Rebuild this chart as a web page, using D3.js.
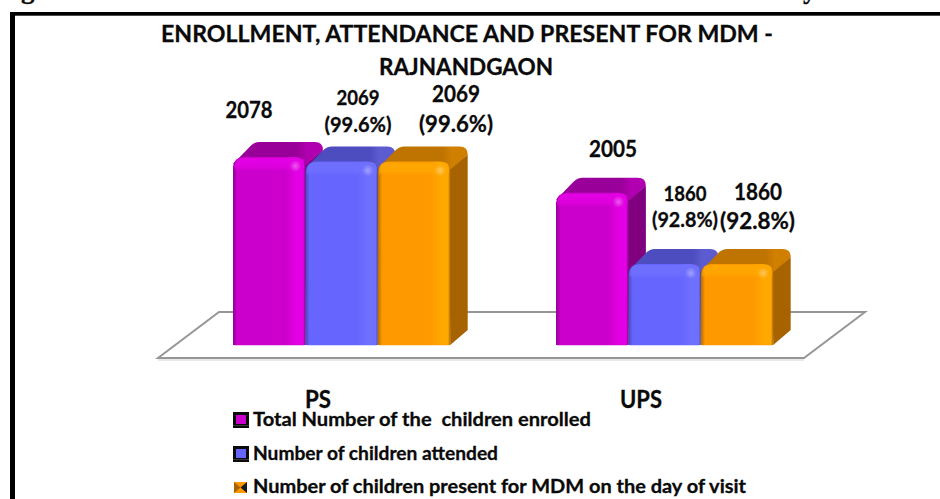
<!DOCTYPE html>
<html>
<head>
<meta charset="utf-8">
<script src="https://cdn.jsdelivr.net/npm/d3@7"></script>
<style>
    html, body { margin: 0; padding: 0; background: #fff; overflow: hidden; }
    text { font-family: Lato, "Open Sans", sans-serif; font-weight: 700; fill: #0a0a0a; stroke: #0a0a0a; stroke-width: 0.3; white-space: pre; }
</style>
</head>
<body>
<div id="chart"></div>
<script>
// Data
const categories = ['PS', 'UPS'];
const seriesNames = [
    'Total Number of the  children enrolled',
    'Number of children attended',
    'Number of children present for MDM on the day of visit'
];
const enrolled = [2078, 2005];
const attended = [2069, 1860];
const presentForMdm = [2069, 1860];
const attendedPct = ['(99.6%)', '(92.8%)'];
const presentPct = ['(99.6%)', '(92.8%)'];
const titleLines = ['ENROLLMENT, ATTENDANCE AND PRESENT FOR MDM -', 'RAJNANDGAON'];

// Layout
const width = 940, height = 499;
const baseY = 345, floorFrontY = 358, floorBackY = 312;
const floorSkew = 61;
const barOffset = 75, barWidth = 72.4;
const depthX = 17.5, depthY = 15;

const colors = [
    {front: '#cc00cc', bright: '#e400e4', dark: '#8f008f', top: '#990099', topLight: '#b000b0', side: '#800080'},
    {front: '#6666ff', bright: '#7070ff', dark: '#4747b3', top: '#4d4dbf', topLight: '#5c5cd0', side: '#47478f'},
    {front: '#ff9900', bright: '#ffa800', dark: '#b36b00', top: '#bf7300', topLight: '#d08000', side: '#a66300'}
];

const xBand = d3.scaleBand().domain(categories).range([158, 804]);
const xSeries = d3.scaleBand().domain(d3.range(seriesNames.length)).range([0, barWidth * 3]);
const y = d3.scaleLinear().domain([1695, 2078]).range([baseY, 157]);

const svg = d3.select('#chart').append('svg')
    .attr('width', width)
    .attr('height', height)
    .style('display', 'block');

const defs = svg.append('defs');
colors.forEach((c, i) => {
    const g = defs.append('linearGradient').attr('id', 'front' + i);
    [[0, c.dark], [0.06, c.front], [0.72, c.front], [0.88, c.bright], [0.97, c.bright], [1, c.dark]]
        .forEach(s => g.append('stop').attr('offset', s[0]).attr('stop-color', s[1]));
    const t = defs.append('linearGradient').attr('id', 'top' + i);
    [[0, c.top], [0.72, c.top], [0.82, c.topLight], [1, c.topLight]]
        .forEach(s => t.append('stop').attr('offset', s[0]).attr('stop-color', s[1]));
    const b = defs.append('linearGradient').attr('id', 'bevel' + i).attr('x2', 0).attr('y2', 1);
    b.append('stop').attr('offset', 0).attr('stop-color', c.bright).attr('stop-opacity', 0.95);
    b.append('stop').attr('offset', 0.7).attr('stop-color', c.bright).attr('stop-opacity', 0.7);
    b.append('stop').attr('offset', 1).attr('stop-color', c.bright).attr('stop-opacity', 0);
});
const glow = defs.append('radialGradient').attr('id', 'glow');
glow.append('stop').attr('offset', 0).attr('stop-color', '#fff').attr('stop-opacity', 0.35);
glow.append('stop').attr('offset', 1).attr('stop-color', '#fff').attr('stop-opacity', 0);

// frame, only the top and left edges are in the picture
svg.append('rect').attr('x', 10).attr('y', 12).attr('width', width - 10).attr('height', 3.7).attr('fill', '#000');
svg.append('rect').attr('x', 10).attr('y', 12).attr('width', 5).attr('height', height - 12).attr('fill', '#000');

// descenders of the caption cut off at the top edge
svg.selectAll('.clipped')
    .data([['g', 21], ['y', 803]])
    .join('text')
    .attr('x', d => d[1])
    .attr('y', -2)
    .attr('font-size', 27)
    .style('font-family', '"Liberation Serif", serif')
    .text(d => d[0]);

// floor
const floorL = xBand.range()[0], floorR = xBand.range()[1];
const floor = `M${floorL},${floorFrontY} L${floorL + floorSkew},${floorBackY} L${floorR + floorSkew},${floorBackY} L${floorR},${floorFrontY} Z`;
svg.append('path')
    .attr('d', floor)
    .attr('fill', '#fff')
    .attr('stroke', '#969696')
    .attr('stroke-width', 2);
svg.append('line')
    .attr('x1', floorL).attr('x2', floorR)
    .attr('y1', floorFrontY + 2).attr('y2', floorFrontY + 2)
    .attr('stroke', '#e2e2e2')
    .attr('stroke-width', 1.5);

// bars
const allSeries = [enrolled, attended, presentForMdm];
categories.forEach((cat, ci) => {
    allSeries.forEach((values, si) => {
        const bx = xBand(cat) + barOffset + xSeries(si);
        const w = xSeries.bandwidth();
        const by = y(values[ci]);
        const g = svg.append('g').attr('class', 'bar');

        // top face, the left edge runs on a chamfer into the back edge
        g.append('path')
            .attr('d', `M${bx},${by + 7} L${bx + depthX},${by - depthY + 4} Q${bx + depthX + 4},${by - depthY} ${bx + depthX + 9},${by - depthY}`
                + ` L${bx + w + depthX - 8},${by - depthY} Q${bx + w + depthX},${by - depthY} ${bx + w + depthX},${by - depthY + 8} L${bx + w},${by + 9} Z`)
            .attr('fill', `url(#top${si})`);
        g.append('path')
            .attr('d', `M${bx + w - 1},${by + 9} L${bx + w + depthX},${by - depthY + 8} L${bx + w + depthX},${baseY - depthY} L${bx + w},${baseY} Z`)
            .attr('fill', colors[si].side);
        g.append('path')
            .attr('d', `M${bx},${baseY} L${bx},${by + 10} Q${bx + 1},${by} ${bx + 11},${by} L${bx + w - 10},${by} Q${bx + w},${by} ${bx + w},${by + 10} L${bx + w},${baseY} Z`)
            .attr('fill', `url(#front${si})`);
        // bevel along the top of the front face
        g.append('path')
            .attr('d', `M${bx + 1},${by + 14} L${bx + 1},${by + 10} Q${bx + 2},${by + 1} ${bx + 11},${by + 1} L${bx + w - 10},${by + 1} Q${bx + w - 1},${by + 1} ${bx + w - 1},${by + 10} L${bx + w - 1},${by + 14} Z`)
            .attr('fill', `url(#bevel${si})`);
        g.append('circle')
            .attr('cx', bx + w - 10)
            .attr('cy', by + 9)
            .attr('r', 6)
            .attr('fill', 'url(#glow)');
        g.append('rect')
            .attr('x', bx + 1).attr('y', baseY - 0.5)
            .attr('width', w - 2).attr('height', 1.5)
            .attr('fill', colors[si].front)
            .attr('opacity', 0.25);
    });
});

// text fitted to the width it has in the picture
function fitText(str, cx, baseline, size, targetWidth) {
    return svg.append('text')
        .attr('x', cx)
        .attr('y', baseline)
        .attr('font-size', size)
        .attr('text-anchor', 'middle')
        .attr('textLength', targetWidth)
        .attr('lengthAdjust', 'spacingAndGlyphs')
        .text(str);
}

fitText(titleLines[0], 467, 41.5, 23, 612);
fitText(titleLines[1], 466, 75, 23, 174);

// value labels were placed by hand in the original
fitText(String(enrolled[0]), 249, 118, 22, 47);
fitText(String(attended[0]), 358, 105, 20, 43);
fitText(attendedPct[0], 358, 132, 20, 67);
fitText(String(presentForMdm[0]), 456, 102, 22, 48);
fitText(presentPct[0], 456, 132, 22, 74);
fitText(String(enrolled[1]), 613, 157, 22, 48);
fitText(String(attended[1]), 685, 200.5, 20, 43);
fitText(attendedPct[1], 685, 227, 20, 66);
fitText(String(presentForMdm[1]), 758, 200, 22, 48);
fitText(presentPct[1], 757.5, 229, 22, 75);

// category labels
categories.forEach((cat, i) => {
    fitText(cat, xBand(cat) + xBand.bandwidth() / 2 - 1.5, 408, 24, i === 0 ? 26 : 42);
});

// legend
const legendBaselines = [426, 460, 493];
const legendWidths = [338, 245, 493];
const swatchTop = [412, 446, 481];
seriesNames.forEach((name, i) => {
    const sy = swatchTop[i];
    if (i < 2) {
        svg.append('rect').attr('x', 233).attr('y', sy).attr('width', 16).attr('height', 16).attr('fill', '#0a0a0a');
        svg.append('rect').attr('x', 236).attr('y', sy + 3).attr('width', 10).attr('height', 9).attr('fill', colors[i].front);
        svg.append('rect').attr('x', 233).attr('y', sy + 13).attr('width', 16).attr('height', 1).attr('fill', '#3a3a3a');
    } else {
        // third marker is a bow tie in the picture
        svg.append('rect').attr('x', 234).attr('y', sy + 1).attr('width', 13).attr('height', 11).attr('fill', colors[2].front);
        svg.append('path').attr('d', `M234,${sy + 1} L240.5,${sy + 6.5} L234,${sy + 12} Z`).attr('fill', '#a66300');
        svg.append('path').attr('d', `M247,${sy + 1} L240.5,${sy + 6.5} L247,${sy + 12} Z`).attr('fill', '#1a1a1a');
    }
    svg.append('text')
        .attr('x', 253)
        .attr('y', legendBaselines[i])
        .attr('font-size', 19)
        .attr('textLength', legendWidths[i])
        .attr('lengthAdjust', 'spacingAndGlyphs')
        .text(name);
});
</script>
</body>
</html>
